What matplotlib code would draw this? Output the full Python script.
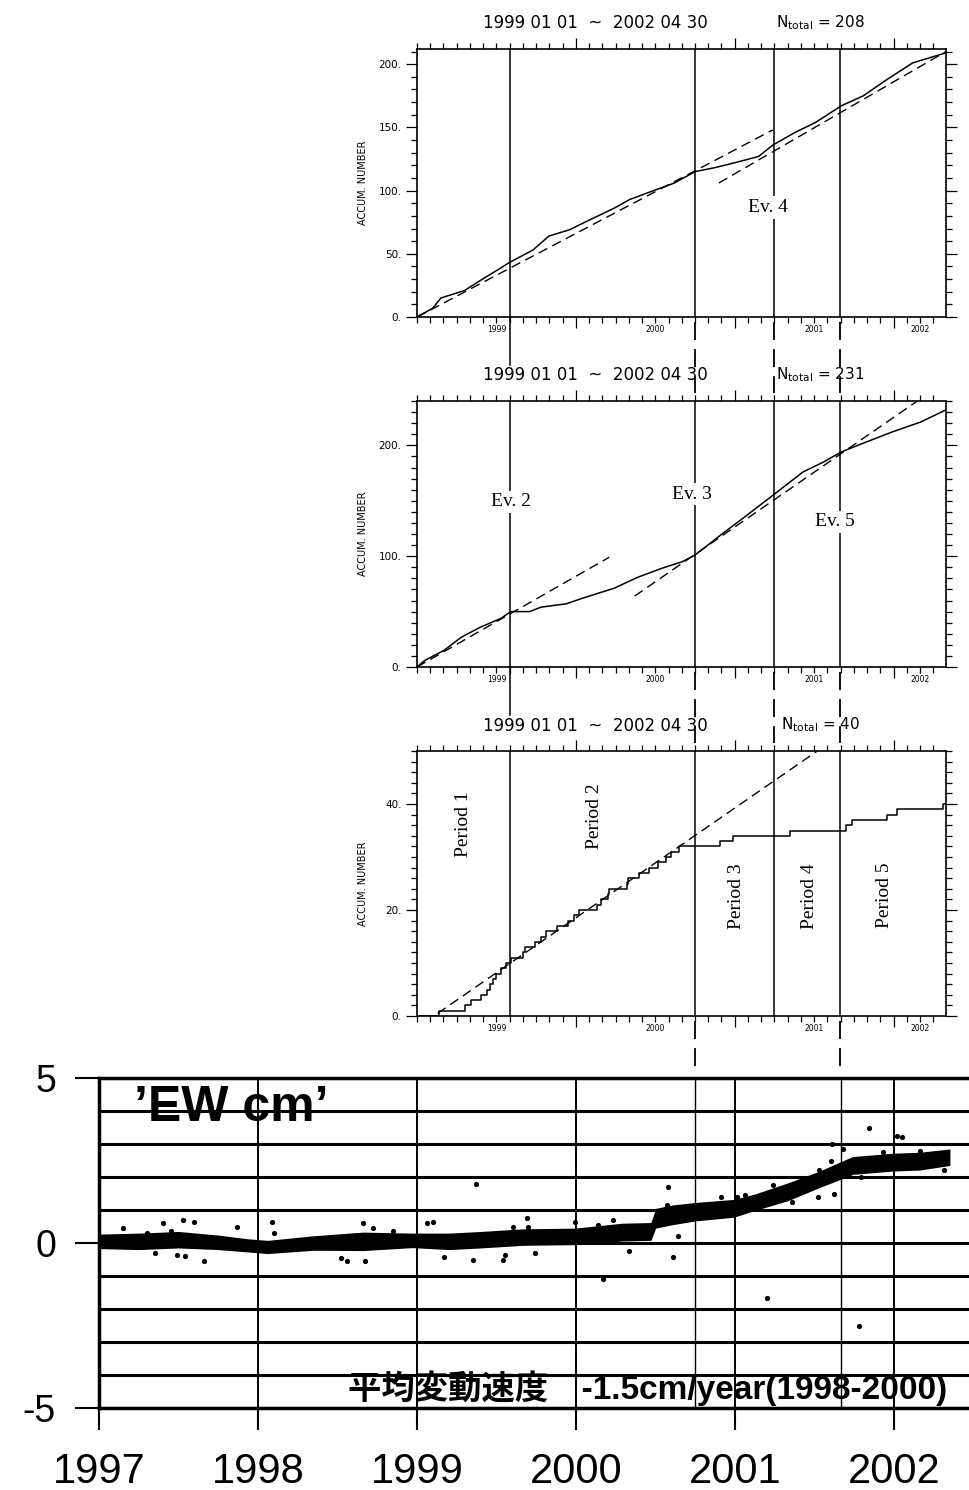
import numpy as np
import matplotlib
matplotlib.use("Agg")
import matplotlib.pyplot as plt
import matplotlib.transforms as mtransforms
from matplotlib.lines import Line2D
from matplotlib.ticker import FixedLocator, MultipleLocator

plt.rcParams['font.family'] = ['DejaVu Sans', 'Noto Sans CJK JP']

W, H = 969, 1490

# event lines (decimal years) shared by the three upper panels
event_t = [1999.585, 2000.75, 2001.245, 2001.665]
year_mid_t = [1999.5, 2000.5, 2001.5, 2002.17]
year_lbl = ["1999", "2000", "2001", "2002"]
title_period = "1999 01 01  ~  2002 04 30"

# panel 1 (Ntotal = 208)
p1_t = [1999.0, 1999.10, 1999.15, 1999.30, 1999.40, 1999.53, 1999.58, 1999.73, 1999.83,
        1999.96, 2000.09, 2000.24, 2000.34, 2000.49, 2000.62, 2000.75, 2000.87, 2001.0,
        2001.15, 2001.24, 2001.38, 2001.51, 2001.67, 2001.81, 2001.96, 2002.12, 2002.33]
p1_n = [0, 7, 15, 21, 29, 39, 43, 53, 64, 69, 77, 86, 93, 100, 106, 115, 118, 122,
        127, 136, 146, 154, 167, 175, 188, 201, 209]
p1_fit1_t = [1999.0, 2001.24]
p1_fit1_n = [0, 148]
p1_fit2_t = [2000.90, 2002.33]
p1_fit2_n = [106, 210]
p1_total = 208

# panel 2 (Ntotal = 231)
p2_t = [1999.0, 1999.05, 1999.17, 1999.28, 1999.40, 1999.53, 1999.59, 1999.71, 1999.78,
        1999.94, 2000.04, 2000.24, 2000.39, 2000.54, 2000.67, 2000.75, 2000.92, 2001.05,
        2001.25, 2001.43, 2001.56, 2001.67, 2001.81, 2001.99, 2002.17, 2002.33]
p2_n = [0, 6, 15, 27, 36, 44, 50, 50, 54, 57, 62, 71, 81, 89, 95, 101, 120, 134,
        156, 176, 185, 194, 202, 212, 221, 232]
p2_fit1_t = [1999.0, 2000.21]
p2_fit1_n = [0, 99]
p2_fit2_t = [2000.37, 2002.17]
p2_fit2_n = [64, 242]
p2_total = 231

# panel 3 (Ntotal = 40), times of single events
p3_ev = [1999.14, 1999.30, 1999.34, 1999.40, 1999.44, 1999.46, 1999.48, 1999.50, 1999.53,
         1999.56, 1999.59, 1999.67, 1999.68, 1999.74, 1999.78, 1999.81, 1999.88, 1999.95,
         1999.99, 2000.02, 2000.13, 2000.16, 2000.20, 2000.21, 2000.32, 2000.33, 2000.40,
         2000.46, 2000.52, 2000.57, 2000.60, 2000.65, 2000.905, 2000.99, 2001.35, 2001.70,
         2001.74, 2001.96, 2002.02, 2002.31]
p3_fit_t = [1999.13, 2001.52]
p3_fit_n = [0.5, 50]
p3_total = 40
period_lbl = ["Period 1", "Period 2", "Period 3", "Period 4", "Period 5"]
period_t = [1999.29, 2000.12, 2001.01, 2001.47, 2001.94]
period_y = [36.2, 37.7, 22.7, 22.7, 22.7]

# GPS east-west displacement (cm): centre of the dot band, half thickness, stray dots
ew_t = [1997.0, 1997.25, 1997.5, 1997.75, 1997.93, 1998.06, 1998.35, 1998.66, 1998.97,
        1999.2, 1999.4, 1999.67, 1999.99, 2000.29, 2000.47, 2000.50, 2000.60, 2000.75,
        2000.99, 2001.12, 2001.33, 2001.53, 2001.69, 2001.74, 2001.99, 2002.16, 2002.35]
ew_mid = [0.05, 0.05, 0.1, 0.02, -0.07, -0.12, 0.0, 0.05, 0.08, 0.05, 0.1, 0.18, 0.2,
          0.33, 0.35, 0.75, 0.85, 0.95, 1.05, 1.23, 1.55, 1.93, 2.25, 2.35, 2.45, 2.48, 2.6]
ew_half = [0.22, 0.25, 0.25, 0.22, 0.2, 0.2, 0.22, 0.28, 0.22, 0.25, 0.25, 0.25, 0.25,
           0.27, 0.27, 0.3, 0.3, 0.28, 0.27, 0.25, 0.27, 0.25, 0.27, 0.27, 0.27, 0.27, 0.25]
ew_out_t = [1997.15, 1997.30, 1997.35, 1997.40, 1997.45, 1997.49, 1997.53, 1997.54, 1997.60,
            1997.66, 1997.87, 1998.09, 1998.10, 1998.52, 1998.56, 1998.66, 1998.67, 1998.72,
            1998.85, 1999.06, 1999.10, 1999.17, 1999.35, 1999.37, 1999.54, 1999.55, 1999.60,
            1999.69, 1999.70, 1999.74, 1999.99, 2000.14, 2000.17, 2000.23, 2000.33, 2000.57,
            2000.58, 2000.61, 2000.64, 2000.91, 2001.01, 2001.06, 2001.20, 2001.24, 2001.36,
            2001.52, 2001.53, 2001.60, 2001.61, 2001.62, 2001.68, 2001.78, 2001.79, 2001.84,
            2001.93, 2002.02, 2002.05, 2002.16, 2002.31]
ew_out_v = [0.45, 0.3, -0.3, 0.6, 0.35, -0.35, 0.7, -0.4, 0.65,
            -0.55, 0.5, 0.65, 0.3, -0.45, -0.55, 0.6, -0.55, 0.45,
            0.35, 0.6, 0.65, -0.42, -0.5, 1.8, -0.5, -0.35, 0.5,
            0.75, 0.5, -0.3, 0.63, 0.55, -1.1, 0.7, -0.25, 1.15,
            1.7, -0.42, 0.2, 1.4, 1.4, 1.45, -1.67, 1.75, 1.25,
            1.4, 2.2, 2.5, 3.0, 1.5, 2.85, -2.5, 2.0, 3.5,
            2.75, 3.25, 3.2, 2.8, 2.2]
ew_years = [1997, 1998, 1999, 2000, 2001, 2002]
ew_note = "平均変動速度\u3000-1.5cm/year(1998-2000)"


def px_rect(l, t, r, b):
    return [l / W, 1 - b / H, (r - l) / W, (b - t) / H]


fig = plt.figure(figsize=(W / 100, H / 100), dpi=100)


def accum_panel(rect, ymax, ymaj, ymin, ntotal):
    ax = fig.add_axes(rect)
    ax.set_xlim(1999.0, 2002.33)
    ax.set_ylim(0, ymax)
    ax.xaxis.set_major_locator(FixedLocator([2000, 2001, 2002]))
    ax.xaxis.set_minor_locator(MultipleLocator(1 / 12))
    ax.yaxis.set_major_locator(MultipleLocator(ymaj))
    ax.yaxis.set_minor_locator(MultipleLocator(ymin))
    ax.yaxis.set_major_formatter(lambda v, p: f"{v:.0f}.")
    ax.tick_params(which='both', direction='out', top=True, right=True,
                   labelbottom=False, width=0.9)
    ax.tick_params(which='major', length=8)
    ax.tick_params(which='minor', length=4)
    ax.tick_params(axis='y', labelsize=7.5, pad=3)
    for s in ax.spines.values():
        s.set_linewidth(1.2)
    tr = mtransforms.blended_transform_factory(ax.transData, ax.transAxes)
    for t, l in zip(year_mid_t, year_lbl):
        ax.text(t, -0.03, l, transform=tr, ha='center', va='top', fontsize=5.5)
    ax.set_ylabel("ACCUM. NUMBER", fontsize=7)
    ax.yaxis.set_label_coords(-0.093, 0.5)
    for t in event_t:
        ax.axvline(t, color='k', lw=1.1, zorder=1)
    ax.text(2000.12, 1.096, title_period, transform=tr, ha='center', va='center',
            fontsize=12)
    ax.text(2001.54, 1.10, r"N$_{\rm total}$ = " + str(ntotal), transform=tr,
            ha='center', va='center', fontsize=11)
    return ax


ev_kw = dict(ha='center', va='center', fontsize=14, family='Liberation Serif', zorder=4,
             bbox=dict(facecolor='white', edgecolor='none', pad=2))
dash = (0, (7, 4))

ax1 = accum_panel(px_rect(417, 49, 946, 317), 212, 50, 10, p1_total)
ax1.plot(p1_t, p1_n, color='k', lw=1.1, zorder=3)
ax1.plot(p1_fit1_t, p1_fit1_n, color='k', lw=1.0, ls=dash, zorder=2)
ax1.plot(p1_fit2_t, p1_fit2_n, color='k', lw=1.0, ls=dash, zorder=2)
ax1.text(2001.21, 86.5, "Ev. 4", **ev_kw)

ax2 = accum_panel(px_rect(417, 401, 946, 667), 240, 100, 10, p2_total)
ax2.plot(p2_t, p2_n, color='k', lw=1.1, zorder=3)
ax2.plot(p2_fit1_t, p2_fit1_n, color='k', lw=1.0, ls=dash, zorder=2)
ax2.plot(p2_fit2_t, p2_fit2_n, color='k', lw=1.0, ls=dash, zorder=2)
ax2.text(1999.59, 149, "Ev. 2", **ev_kw)
ax2.text(2000.73, 156, "Ev. 3", **ev_kw)
ax2.text(2001.63, 131, "Ev. 5", **ev_kw)

ax3 = accum_panel(px_rect(417, 751, 946, 1016), 50, 20, 2, p3_total)
counts = np.arange(1, len(p3_ev) + 1)
ax3.step(np.r_[1999.0, p3_ev, 2002.33], np.r_[0, counts, counts[-1]], where='post',
         color='k', lw=1.1, zorder=3)
ax3.plot(p3_fit_t, p3_fit_n, color='k', lw=1.0, ls=dash, zorder=2)
for l, t, y in zip(period_lbl, period_t, period_y):
    ax3.text(t, y, l, rotation=90, ha='center', va='center', fontsize=14,
             family='Liberation Serif')

# bottom panel: GPS EW component
axb = fig.add_axes(px_rect(99, 1078, 969, 1408))
axb.set_xlim(1997, 2002.47)
axb.set_ylim(-5, 5)
for y in range(-5, 6):
    axb.axhline(y, color='k', lw=2.2, zorder=1)
for x in ew_years:
    axb.axvline(x, color='k', lw=1.4, zorder=1)
for t in [event_t[1], event_t[3]]:
    axb.axvline(t, color='k', lw=1.0, zorder=1)
mid = np.array(ew_mid)
half = np.array(ew_half)
axb.fill_between(ew_t, mid - half, mid + half, color='k', lw=0, zorder=3)
axb.scatter(ew_out_t, ew_out_v, s=14, color='k', lw=0, zorder=3)
axb.set_xticks(ew_years)
axb.set_xticklabels([str(y) for y in ew_years])
axb.set_yticks([-5, 0, 5])
axb.set_yticklabels(["-5", "0", "5"])
axb.tick_params(axis='y', length=17, width=1.5, pad=14, labelsize=27)
axb.tick_params(axis='x', length=16, width=1.5, pad=16, labelsize=30)
for lbl in axb.get_xticklabels() + axb.get_yticklabels():
    lbl.set_fontfamily(['Liberation Sans', 'DejaVu Sans'])
axb.spines['right'].set_visible(False)
for s in ['left', 'top', 'bottom']:
    axb.spines[s].set_linewidth(2.5)
axb.text(1997.22, 4.1, "\u2019EW cm\u2019", ha='left', va='center', fontsize=36,
         fontweight='bold', family=['Liberation Sans', 'DejaVu Sans'], zorder=4)
axb.text(2002.33, -4.93, ew_note, ha='right', va='bottom', fontsize=24, fontweight='bold',
         family=['Liberation Sans', 'Noto Sans CJK JP'], zorder=4)

# dashed continuation of the event lines through the gaps between panels
ftr = mtransforms.blended_transform_factory(ax1.transData, fig.transFigure)
gaps = [(317, 401, event_t), (667, 751, event_t), (1016, 1078, [event_t[1], event_t[3]])]
for y0, y1, ts in gaps:
    for t in ts:
        if t == event_t[0]:
            ln = Line2D([t, t], [1 - y0 / H, 1 - (y0 + 48) / H], transform=ftr,
                        color='k', lw=1.1)
        else:
            ln = Line2D([t, t], [1 - (y0 + 5) / H, 1 - (y1 - 8) / H], transform=ftr,
                        color='k', lw=1.3, ls=(0, (10, 5)))
        fig.add_artist(ln)

fig.savefig("out.png", dpi=100)
